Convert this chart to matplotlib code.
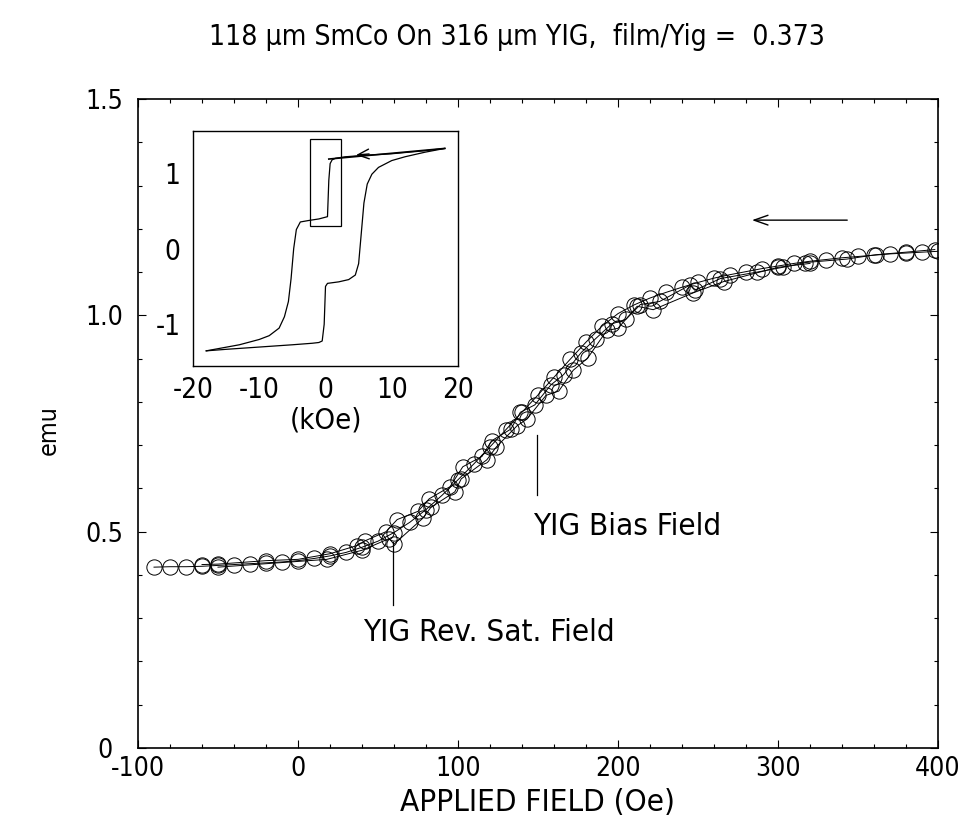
import matplotlib
matplotlib.use("Agg")
import matplotlib.pyplot as plt
from matplotlib.patches import Rectangle

plt.rcParams['font.family'] = ['DejaVu Sans']
plt.rcParams['font.stretch'] = 'condensed'
plt.rcParams['axes.unicode_minus'] = False

# ---------------- data ----------------
title = "118 \u03bcm SmCo On 316 \u03bcm YIG,  film/Yig =  0.373"

run1_x = [-90, -80, -70, -60, -50, -40, -30, -20, -10, 0, 10, 20, 30, 40, 50, 60, 70, 80, 90, 100,
          110, 120, 130, 140, 150, 160, 170, 180, 190, 200, 210, 220, 230, 240, 250, 260, 270, 280,
          290, 300, 310, 320, 330, 340, 350, 360, 370, 380, 390, 400]
run1_y = [0.418, 0.419, 0.419, 0.420, 0.422, 0.424, 0.426, 0.428, 0.430, 0.433, 0.438, 0.444, 0.452,
          0.464, 0.478, 0.498, 0.522, 0.551, 0.584, 0.620, 0.657, 0.696, 0.736, 0.776, 0.816, 0.857,
          0.898, 0.938, 0.975, 1.004, 1.024, 1.040, 1.053, 1.065, 1.076, 1.086, 1.094, 1.101, 1.108,
          1.114, 1.120, 1.125, 1.129, 1.133, 1.136, 1.139, 1.142, 1.144, 1.146, 1.148]

run2_x = [-60, -50, -20, 0, 20, 37, 42, 55, 62, 75, 82, 95, 103, 115, 121, 133, 139, 148, 158, 166,
          177, 186, 196, 205, 214, 226, 245, 248, 264, 287, 303, 317, 343, 361, 380, 398]
run2_y = [0.424, 0.425, 0.433, 0.436, 0.449, 0.468, 0.479, 0.500, 0.528, 0.547, 0.576, 0.604, 0.650,
          0.674, 0.710, 0.737, 0.776, 0.793, 0.839, 0.863, 0.914, 0.946, 0.980, 0.991, 1.025, 1.032,
          1.070, 1.058, 1.085, 1.100, 1.111, 1.122, 1.130, 1.140, 1.146, 1.152]

run3_x = [-50, 18, 40, 57, 60, 78, 83, 98, 102, 118, 124, 137, 143, 155, 163, 172, 181, 193, 200,
          212, 222, 247, 266, 300, 320]
run3_y = [0.418, 0.436, 0.457, 0.484, 0.471, 0.531, 0.556, 0.592, 0.622, 0.666, 0.696, 0.745, 0.760,
          0.815, 0.825, 0.873, 0.901, 0.965, 0.970, 1.021, 1.013, 1.052, 1.078, 1.111, 1.120]

# inset hysteresis loop (kOe, normalised)
inc_h = [-18, -15, -10, -5, -2, -1, -0.5, -0.2, 0.0, 0.3, 2, 3.5, 4.5, 5.0, 5.4, 5.8, 6.3, 7, 8, 10, 12, 15, 18]
inc_m = [-1.35, -1.33, -1.30, -1.27, -1.25, -1.24, -1.22, -1.0, -0.50, -0.46, -0.44, -0.41, -0.35,
         -0.2, 0.2, 0.6, 0.85, 0.98, 1.07, 1.16, 1.21, 1.27, 1.32]
dec_h = [18, 15, 10, 6, 3, 1.5, 1.0, 0.7, 0.5, 0.3, -1, -2.5, -3.8, -4.4, -4.8, -5.2, -5.6, -6.2, -7,
         -8.5, -10, -13, -18]
dec_m = [1.32, 1.29, 1.25, 1.23, 1.21, 1.19, 1.17, 1.12, 0.9, 0.42, 0.39, 0.37, 0.35, 0.25, 0.0,
         -0.4, -0.7, -0.9, -1.05, -1.15, -1.2, -1.27, -1.35]

main_xticks = [-100, 0, 100, 200, 300, 400]
main_yticks = [0, 0.5, 1.0, 1.5]
main_yticklabels = ['0', '0.5', '1.0', '1.5']
inset_xticks = [-20, -10, 0, 10, 20]
inset_yticks = [-1, 0, 1]

# ---------------- figure ----------------
W, H = 959, 833
fig = plt.figure(figsize=(W / 100, H / 100), dpi=100)
L, R, T, B = 138, 938, 99, 748
ax = fig.add_axes([L / W, 1 - B / H, (R - L) / W, (B - T) / H])

for xs, ys in [(run1_x, run1_y), (run2_x, run2_y), (run3_x, run3_y)]:
    ax.plot(xs, ys, color='black', lw=0.7, marker='o', markersize=11,
            markerfacecolor='none', markeredgecolor='black', markeredgewidth=0.7)

ax.set_xlim(-100, 400)
ax.set_ylim(0, 1.5)
ax.set_xticks(main_xticks)
ax.set_yticks(main_yticks)
ax.set_yticklabels(main_yticklabels)
ax.set_xticks(range(-100, 401, 20), minor=True)
ax.set_yticks([i / 10 for i in range(0, 16)], minor=True)
ax.tick_params(which='both', direction='in', top=True, right=True, labelsize=19, width=0.8)
ax.tick_params(which='major', length=6)
ax.tick_params(axis='y', which='major', pad=24)
ax.tick_params(axis='x', which='major', pad=6)
ax.tick_params(which='minor', length=3)
for lab in ax.get_yticklabels():
    lab.set_horizontalalignment('center')
for sp in ax.spines.values():
    sp.set_linewidth(1.2)

ax.set_xlabel('APPLIED FIELD (Oe)', fontsize=22.5)
ax.xaxis.set_label_coords(0.5, -0.062)
ax.set_ylabel('emu', fontsize=18)
ax.yaxis.set_label_coords(-0.097, 0.49)
fig.text(517 / W, 1 - 37 / H, title, ha='center', va='center', fontsize=20.3)

# arrow
ax.annotate('', xy=(282, 1.22), xytext=(345, 1.22),
            arrowprops=dict(arrowstyle='->,head_length=1.0,head_width=0.35', lw=1.0, color='black'))

# annotations
ax.plot([149.5, 149.5], [0.585, 0.723], color='black', lw=0.9)
ax.text(147, 0.511, 'YIG Bias Field', fontsize=22.5, ha='left', va='center')
ax.plot([59.5, 59.5], [0.33, 0.476], color='black', lw=0.9)
ax.text(40.5, 0.268, 'YIG Rev. Sat. Field', fontsize=22.5, ha='left', va='center')

# inset
iL, iR, iT, iB = 193, 458, 131, 366
ins = fig.add_axes([iL / W, 1 - iB / H, (iR - iL) / W, (iB - iT) / H])
ins.plot(inc_h, inc_m, color='black', lw=0.9)
ins.plot(dec_h, dec_m, color='black', lw=0.9)
ins.plot([0.5, 18], [1.18, 1.32], color='black', lw=1.2)
ins.add_patch(Rectangle((-2.3, 0.30), 4.6, 1.14, fill=False, lw=0.9, edgecolor='black'))
ins.annotate('', xy=(4.2, 1.23), xytext=(7.0, 1.25),
             arrowprops=dict(arrowstyle='->,head_length=0.8,head_width=0.35', lw=1.0, color='black'))
ins.set_xlim(-20, 20)
ins.set_ylim(-1.55, 1.55)
ins.set_xticks(inset_xticks)
ins.set_yticks(inset_yticks)
ins.tick_params(axis='x', direction='in', length=0, labelsize=20, pad=7)
ins.tick_params(axis='y', direction='in', length=0, labelsize=20, pad=9)
ins.set_xlabel('(kOe)', fontsize=21, labelpad=2)
for sp in ins.spines.values():
    sp.set_linewidth(1.0)

fig.savefig('out.png', dpi=100)
